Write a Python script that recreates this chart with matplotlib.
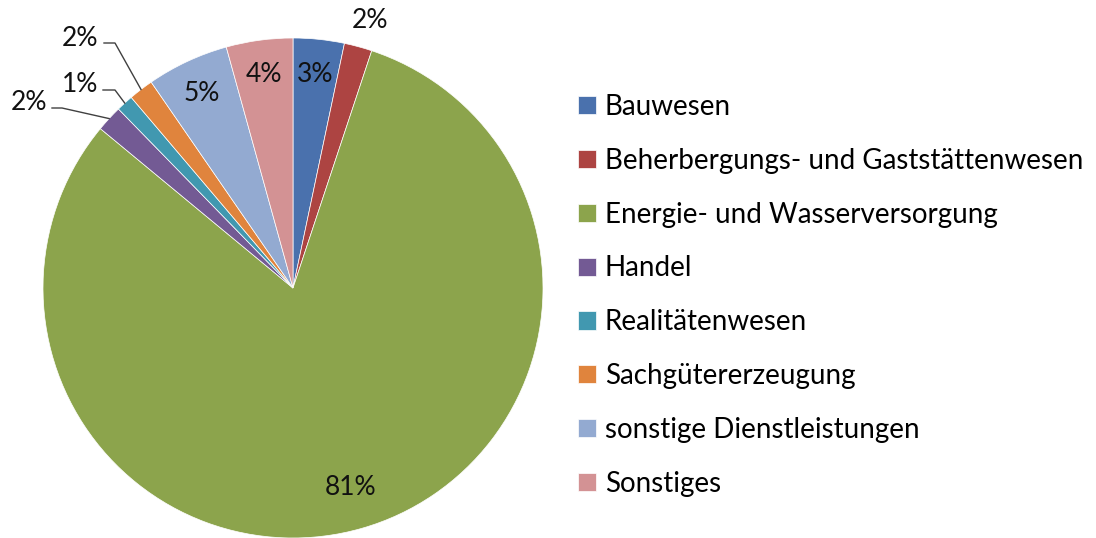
import matplotlib
matplotlib.use("Agg")
import matplotlib.pyplot as plt
import numpy as np

categories = ["Bauwesen", "Beherbergungs- und Gaststättenwesen", "Energie- und Wasserversorgung",
              "Handel", "Realitätenwesen", "Sachgütererzeugung", "sonstige Dienstleistungen", "Sonstiges"]
values = [3.3, 1.8, 80.9, 1.7, 1.1, 1.6, 5.3, 4.3]
colors = ["#4A71AD", "#AD4442", "#8CA44C", "#735A94", "#4198B0", "#E0843D", "#93AAD1", "#D39294"]

plt.rcParams['font.family'] = ['Lato', 'DejaVu Sans']

W, H = 1096, 538
fig = plt.figure(figsize=(W / 100, H / 100), dpi=100)
cx, cy, R = 293, 288, 250
ax = fig.add_axes([(cx - R) / W, (H - cy - R) / H, 2 * R / W, 2 * R / H])

wedges, _ = ax.pie(values, colors=colors, startangle=90, counterclock=False, radius=1,
                   wedgeprops=dict(linewidth=0.5, edgecolor="white"))
ax.set_xlim(-1, 1)
ax.set_ylim(-1, 1)
ax.set_aspect("equal")
ax.axis("off")

total = sum(values)
fs = 19


def mid_point(w, r):
    a = np.deg2rad((w.theta1 + w.theta2) / 2)
    return r * np.cos(a), r * np.sin(a)


def px(x, y):
    return (x - cx) / R, (cy - y) / R

# inside labels
for i in [0, 2, 6, 7]:
    r = 0.83 if i == 2 else 0.86
    x, y = mid_point(wedges[i], r)
    ax.text(x, y, f"{values[i] / total * 100:.0f}%", ha="center", va="center", fontsize=fs, color="#111111")

# outside label without leader
x, y = mid_point(wedges[1], 1.11)
ax.text(x + 0.02, y, f"{values[1] / total * 100:.0f}%", ha="center", va="center", fontsize=fs, color="#111111")

# outside labels with leader lines (text position, elbow)
leaders = {3: ((29, 103), (52, 108), (62, 108)),
           4: ((80, 84), (103, 90), (115, 90)),
           5: ((80, 38), (104, 43), (115, 43))}
for i, (tpos, start, elbow) in leaders.items():
    tx, ty = px(*tpos)
    ax.text(tx, ty, f"{values[i] / total * 100:.0f}%", ha="center", va="center", fontsize=fs, color="#111111")
    ex, ey = mid_point(wedges[i], 1.0)
    sx, sy = px(*start)
    bx, by = px(*elbow)
    ax.plot([sx, bx, ex], [sy, by, ey], color="#404040", lw=1.0, clip_on=False)

leg = fig.legend(wedges, categories, loc="upper left", bbox_to_anchor=(567 / W, 1 - 83 / H),
                 frameon=False, fontsize=20, handlelength=0.63, handleheight=0.63,
                 handletextpad=0.33, labelspacing=1.0, borderaxespad=0)

fig.savefig("out.png", dpi=100)
